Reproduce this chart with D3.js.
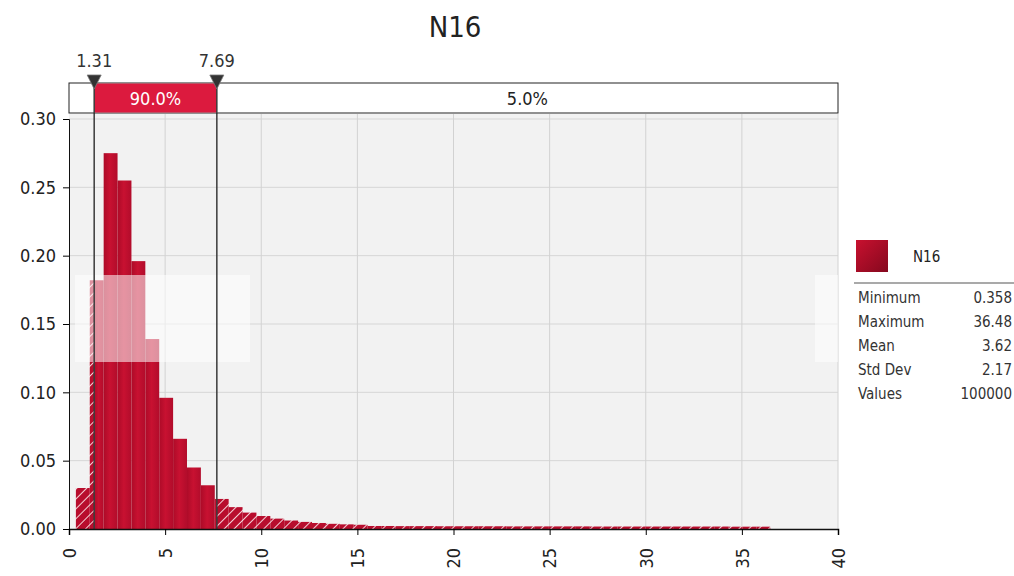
<!DOCTYPE html>
<html><head><meta charset="utf-8">
<script src="https://cdn.jsdelivr.net/npm/d3@7"></script>
<style>
html,body{margin:0;padding:0;background:#fff;}
svg text{font-family:"DejaVu Sans Condensed","DejaVu Sans",sans-serif;font-stretch:condensed;}
</style></head>
<body>
<svg id="chart" width="1014" height="576"></svg>
<script>
// ---- data ----
const title = "N16";
const seriesName = "N16";
const minValue = 0.358, maxValue = 36.48, binCount = 50;
const density = [
  0.030, 0.182, 0.275, 0.255, 0.196, 0.139, 0.096, 0.066, 0.045, 0.032,
  0.022, 0.016, 0.012, 0.0095, 0.0076, 0.0062, 0.0052, 0.0044, 0.0038, 0.0034,
  0.0031, 0.0022, 0.0022, 0.0021, 0.0021, 0.0021, 0.0020, 0.0020, 0.0020, 0.0020,
  0.0020, 0.0019, 0.0019, 0.0019, 0.0019, 0.0019, 0.0019, 0.0018, 0.0018, 0.0018,
  0.0018, 0.0018, 0.0018, 0.0018, 0.0018, 0.0018, 0.0018, 0.0017, 0.0017, 0.0017
];
const lowCut = 1.31, highCut = 7.69;
const bandLabels = ["5.0%", "90.0%", "5.0%"];
const xTicks = [0, 5, 10, 15, 20, 25, 30, 35, 40];
const yTicks = [0, 0.05, 0.10, 0.15, 0.20, 0.25, 0.30];
const statNames = ["Minimum", "Maximum", "Mean", "Std Dev", "Values"];
const statValues = ["0.358", "36.48", "3.62", "2.17", "100000"];

// ---- layout ----
const svg = d3.select("#chart");
const x = d3.scaleLinear().domain([0, 40]).range([69, 838]);
const y = d3.scaleLinear().domain([0, 0.30]).range([529, 119]);
const plotTop = 114;

const defs = svg.append("defs");
const g1 = defs.append("linearGradient").attr("id", "barGrad").attr("x1", "0").attr("x2", "1").attr("y1", "0").attr("y2", "0");
g1.append("stop").attr("offset", "0%").attr("stop-color", "#ad0b28");
g1.append("stop").attr("offset", "45%").attr("stop-color", "#c81131");
g1.append("stop").attr("offset", "100%").attr("stop-color", "#b20c2b");
const pat = defs.append("pattern").attr("id", "hatch").attr("patternUnits", "userSpaceOnUse")
  .attr("width", 7).attr("height", 7).attr("patternTransform", "rotate(45)");
pat.append("rect").attr("width", 7).attr("height", 7).attr("fill", "#b80d2d");
pat.append("line").attr("x1", 0).attr("y1", 0).attr("x2", 0).attr("y2", 7)
  .attr("stroke", "#f4d0d6").attr("stroke-width", 2);
const lg = defs.append("linearGradient").attr("id", "swatch").attr("x1", "0").attr("y1", "0").attr("x2", "1").attr("y2", "1");
lg.append("stop").attr("offset", "0%").attr("stop-color", "#c8112f");
lg.append("stop").attr("offset", "100%").attr("stop-color", "#85081e");

// plot background
svg.append("rect").attr("x", x(0)).attr("y", plotTop).attr("width", x(40) - x(0)).attr("height", y(0) - plotTop).attr("fill", "#f2f2f2");

// grid
svg.append("g").selectAll("line").data(yTicks.slice(1)).join("line")
  .attr("x1", x(0)).attr("x2", x(40)).attr("y1", d => y(d)).attr("y2", d => y(d))
  .attr("stroke", "#d6d6d6").attr("stroke-width", 1);
svg.append("g").selectAll("line").data(xTicks.slice(1)).join("line")
  .attr("x1", d => x(d)).attr("x2", d => x(d)).attr("y1", plotTop).attr("y2", y(0))
  .attr("stroke", "#d2d2d2").attr("stroke-width", 1);

// bars (split at the cut points)
const w = (maxValue - minValue) / binCount;
const pieces = [];
density.forEach((v, i) => {
  const a = minValue + i * w, b = a + w;
  const cuts = [a, b, lowCut, highCut].filter(c => c >= a && c <= b).sort((p, q) => p - q);
  const uniq = cuts.filter((c, k) => k === 0 || c - cuts[k - 1] > 1e-9);
  for (let k = 0; k < uniq.length - 1; k++) {
    const s = uniq[k], e = uniq[k + 1];
    const mid = (s + e) / 2;
    pieces.push({ s, e, v, inside: mid >= lowCut && mid <= highCut });
  }
});
svg.append("g").selectAll("rect").data(pieces).join("rect")
  .attr("x", d => x(d.s)).attr("width", d => x(d.e) - x(d.s))
  .attr("y", d => y(d.v)).attr("height", d => y(0) - y(d.v))
  .attr("fill", d => d.inside ? "url(#barGrad)" : "url(#hatch)");

// ghost overlay band
svg.append("rect").attr("x", 75).attr("y", 275).attr("width", 175).attr("height", 87).attr("fill", "#fff").attr("opacity", 0.55);
svg.append("rect").attr("x", 815).attr("y", 275).attr("width", 23).attr("height", 87).attr("fill", "#fff").attr("opacity", 0.55);

// cut lines
svg.append("g").selectAll("line").data([lowCut, highCut]).join("line")
  .attr("x1", d => x(d)).attr("x2", d => x(d)).attr("y1", 88).attr("y2", y(0))
  .attr("stroke", "#3a3a3a").attr("stroke-width", 1.5);

// top probability bar
svg.append("rect").attr("x", x(0)).attr("y", 83).attr("width", x(40) - x(0)).attr("height", 30)
  .attr("fill", "#fff").attr("stroke", "#222").attr("stroke-width", 1);
svg.append("rect").attr("x", x(lowCut)).attr("y", 83.5).attr("width", x(highCut) - x(lowCut)).attr("height", 29)
  .attr("fill", "#dc1a3e");
svg.append("text").attr("x", (x(lowCut) + x(highCut)) / 2).attr("y", 105).attr("text-anchor", "middle")
  .attr("font-size", 18).attr("fill", "#fff").text(bandLabels[1]);
svg.append("text").attr("x", (x(highCut) + x(40)) / 2).attr("y", 105).attr("text-anchor", "middle")
  .attr("font-size", 18).attr("fill", "#222").text(bandLabels[2]);
svg.append("g").selectAll("line").data([lowCut, highCut]).join("line")
  .attr("x1", d => x(d)).attr("x2", d => x(d)).attr("y1", 83).attr("y2", 113)
  .attr("stroke", "#3a3a3a").attr("stroke-width", 1.5);

// markers
svg.append("g").selectAll("path").data([lowCut, highCut]).join("path")
  .attr("d", d => `M${x(d) - 7},75 L${x(d) + 7},75 L${x(d)},89 Z`)
  .attr("fill", "#333").attr("stroke", "#777").attr("stroke-width", 0.8);
svg.append("g").selectAll("text").data([lowCut, highCut]).join("text")
  .attr("x", d => x(d)).attr("y", 67).attr("text-anchor", "middle")
  .attr("font-size", 18).attr("fill", "#333").text(d => d.toFixed(2));

// title
svg.append("text").attr("x", 455).attr("y", 37).attr("text-anchor", "middle")
  .attr("font-size", 29).attr("fill", "#222").text(title);

// axes
const yAxis = svg.append("g").attr("transform", `translate(${x(0)},0)`)
  .call(d3.axisLeft(y).tickValues(yTicks).tickFormat(d3.format(".2f")).tickSize(6).tickPadding(7));
yAxis.select(".domain").attr("stroke", "#111");
yAxis.selectAll("text").attr("font-size", 18).attr("fill", "#222");
const xAxis = svg.append("g").attr("transform", `translate(0,${y(0)})`)
  .call(d3.axisBottom(x).tickValues(xTicks).tickFormat(d3.format("d")).tickSize(6));
xAxis.select(".domain").attr("stroke", "#111").attr("stroke-width", 1.5);
xAxis.selectAll("text").attr("font-size", 18).attr("fill", "#222")
  .attr("transform", "rotate(-90)").attr("text-anchor", "end")
  .attr("x", -19).attr("y", 0).attr("dy", "0.35em");

// legend
svg.append("rect").attr("x", 856).attr("y", 240).attr("width", 32).attr("height", 32).attr("fill", "url(#swatch)");
svg.append("text").attr("x", 913).attr("y", 262).attr("font-size", 15).attr("fill", "#222").text(seriesName);
svg.append("line").attr("x1", 854).attr("x2", 1014).attr("y1", 283).attr("y2", 283).attr("stroke", "#555").attr("stroke-width", 1.2);
const rows = svg.append("g").selectAll("g").data(statNames).join("g")
  .attr("transform", (d, i) => `translate(0,${303 + i * 24})`);
rows.append("text").attr("x", 858).attr("font-size", 15).attr("fill", "#333").text(d => d);
rows.append("text").attr("x", 1012).attr("text-anchor", "end").attr("font-size", 15).attr("fill", "#333").text((d, i) => statValues[i]);
</script>
</body></html>
